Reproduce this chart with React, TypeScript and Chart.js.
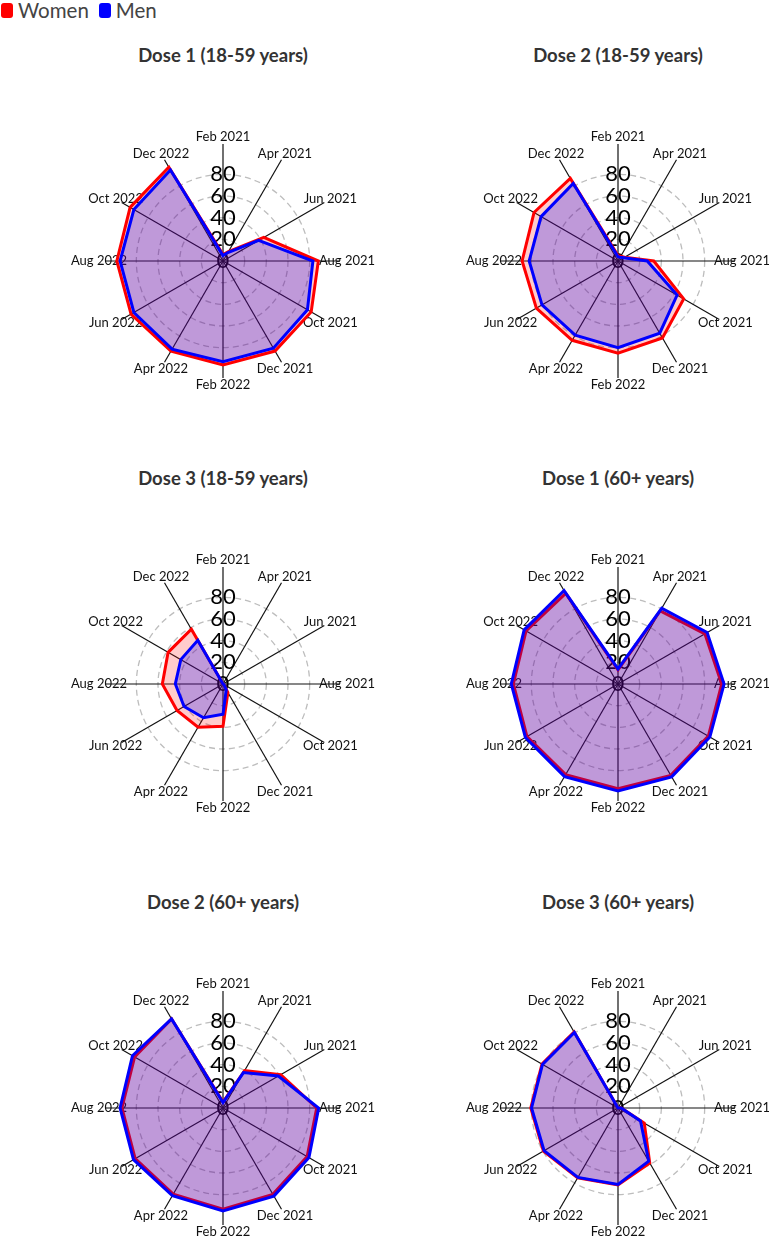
import React, { useEffect, useRef } from "react";
import Chart from "chart.js/auto";

const months = [
  "Feb 2021",
  "Apr 2021",
  "Jun 2021",
  "Aug 2021",
  "Oct 2021",
  "Dec 2021",
  "Feb 2022",
  "Apr 2022",
  "Jun 2022",
  "Aug 2022",
  "Oct 2022",
  "Dec 2022",
];
const radialTicks = [20, 40, 60, 80];
const radialMax = 108;

// coverage values (%) read per month
const dose1YoungWomen = [6, 10, 43.5, 88, 94, 96, 96, 96, 98, 98, 99, 100];
const dose1YoungMen = [5, 9, 38, 83, 90, 93, 93, 94, 95, 95, 95, 97];
const dose2YoungWomen = [5, 5, 7, 33, 70, 82, 85, 84.5, 87, 88.5, 89.5, 88];
const dose2YoungMen = [4, 4, 6, 27, 63, 77, 80, 79, 81, 82, 82, 82.7];
const dose3YoungWomen = [0, 0, 0, 0, 1, 9, 39, 46, 49, 56, 58.5, 58.4];
const dose3YoungMen = [0, 0, 0, 0, 1, 6, 28, 36, 41.5, 44, 45, 46.5];
const dose1OldWomen = [13, 78, 92.6, 95.7, 96.3, 97.4, 96.6, 96.6, 97, 96.6, 98, 96.6];
const dose1OldMen = [14, 80.7, 95, 97.9, 97.9, 99, 98.8, 98.7, 98.7, 98.5, 100, 99.6];
const dose2OldWomen = [5.5, 40, 61.5, 86.5, 89.7, 92, 93.3, 91.9, 93.6, 93.3, 94.2, 95];
const dose2OldMen = [5, 37.7, 59, 88.3, 91.6, 93.9, 95, 93.4, 95.4, 95, 96.5, 95];
const dose3OldWomen = [0, 0, 0, 3, 28, 58.6, 71, 74.5, 79.5, 80.5, 81, 81];
const dose3OldMen = [0, 0, 0, 3, 24, 56.7, 70.6, 74, 78.8, 79.8, 80.5, 80.5];

const FONT = "Lato";

// month labels centred on each spoke, plus the "0" at the centre
const outerLabels = {
  id: "outerLabels",
  beforeDatasetsDraw(chart: any) {
    const scale = chart.scales.r;
    const ctx = chart.ctx;
    ctx.save();
    ctx.textAlign = "center";
    ctx.textBaseline = "middle";
    ctx.fillStyle = "#111";
    ctx.font = `13px ${FONT}`;
    months.forEach((m, i) => {
      const p = scale.getPointPosition(i, scale.drawingArea + 7);
      ctx.fillText(m, p.x, p.y);
    });
    ctx.fillStyle = "#000";
    ctx.font = `22px ${FONT}`;
    ctx.fillText("0", scale.xCenter, scale.yCenter);
    ctx.restore();
  },
};

interface PanelProps {
  title: string;
  women: number[];
  men: number[];
  cx: number;
  cy: number;
}

const RadarPanel: React.FC<PanelProps> = ({ title, women, men, cx, cy }) => {
  const canvasRef = useRef<HTMLCanvasElement>(null);

  useEffect(() => {
    if (!canvasRef.current) return;
    const chart = new Chart(canvasRef.current, {
      type: "radar",
      data: {
        labels: months,
        datasets: [
          {
            label: "Women",
            data: women,
            borderColor: "#ff0000",
            backgroundColor: "rgba(255,0,0,0.2)",
            borderWidth: 3,
            fill: true,
            order: 2,
          },
          {
            label: "Men",
            data: men,
            borderColor: "#0000ff",
            backgroundColor: "rgba(0,0,255,0.25)",
            borderWidth: 3,
            fill: true,
            order: 1,
          },
        ],
      },
      options: {
        responsive: false,
        animation: false,
        layout: { padding: { left: 30, right: 30, top: 20, bottom: 20 } },
        elements: { point: { radius: 0 }, line: { tension: 0 } },
        plugins: { legend: { display: false }, tooltip: { enabled: false } },
        scales: {
          r: {
            min: 0,
            max: radialMax,
            angleLines: { color: "#111", lineWidth: 1.2 },
            grid: {
              circular: true,
              color: "#bdbdbd",
              lineWidth: (c: any) => (radialTicks.includes(c.tick?.value) ? 1.3 : 0),
            },
            border: { dash: [6, 4] },
            pointLabels: { display: false },
            ticks: {
              stepSize: 20,
              showLabelBackdrop: false,
              color: "#000",
              font: { family: FONT, size: 22 },
              callback: (v: any) => (radialTicks.includes(v) ? String(v) : ""),
            },
          },
        },
      },
      plugins: [outerLabels],
    });
    return () => chart.destroy();
  }, [women, men]);

  return (
    <>
      <div
        style={{
          position: "absolute",
          left: cx - 150,
          top: cy - 216,
          width: 300,
          textAlign: "center",
          font: `bold 18.5px ${FONT}`,
          lineHeight: "20px",
          color: "#333",
        }}
      >
        {title}
      </div>
      <canvas
        ref={canvasRef}
        width={320}
        height={300}
        style={{ position: "absolute", left: cx - 160, top: cy - 150, width: 320, height: 300 }}
      />
    </>
  );
};

const legendItem = (color: string, text: string) => (
  <span style={{ display: "inline-flex", alignItems: "center", marginRight: 10 }}>
    <span
      style={{
        display: "inline-block",
        width: 12,
        height: 15,
        borderRadius: 3,
        background: color,
        marginRight: 5,
      }}
    />
    {text}
  </span>
);

export default function App() {
  return (
    <div
      style={{
        position: "fixed",
        left: 0,
        top: 0,
        width: 769,
        height: 1239,
        background: "#fff",
        overflow: "hidden",
      }}
    >
      <div
        style={{
          position: "absolute",
          left: 1,
          top: -1,
          font: `20.5px ${FONT}`,
          color: "#444",
          lineHeight: "23px",
          display: "flex",
        }}
      >
        {legendItem("#ff0000", "Women")}
        {legendItem("#0000ff", "Men")}
      </div>
      <RadarPanel title="Dose 1 (18-59 years)" women={dose1YoungWomen} men={dose1YoungMen} cx={223} cy={261} />
      <RadarPanel title="Dose 2 (18-59 years)" women={dose2YoungWomen} men={dose2YoungMen} cx={618} cy={261} />
      <RadarPanel title="Dose 3 (18-59 years)" women={dose3YoungWomen} men={dose3YoungMen} cx={223} cy={684} />
      <RadarPanel title="Dose 1 (60+ years)" women={dose1OldWomen} men={dose1OldMen} cx={618} cy={684} />
      <RadarPanel title="Dose 2 (60+ years)" women={dose2OldWomen} men={dose2OldMen} cx={223} cy={1108} />
      <RadarPanel title="Dose 3 (60+ years)" women={dose3OldWomen} men={dose3OldMen} cx={618} cy={1108} />
    </div>
  );
}
